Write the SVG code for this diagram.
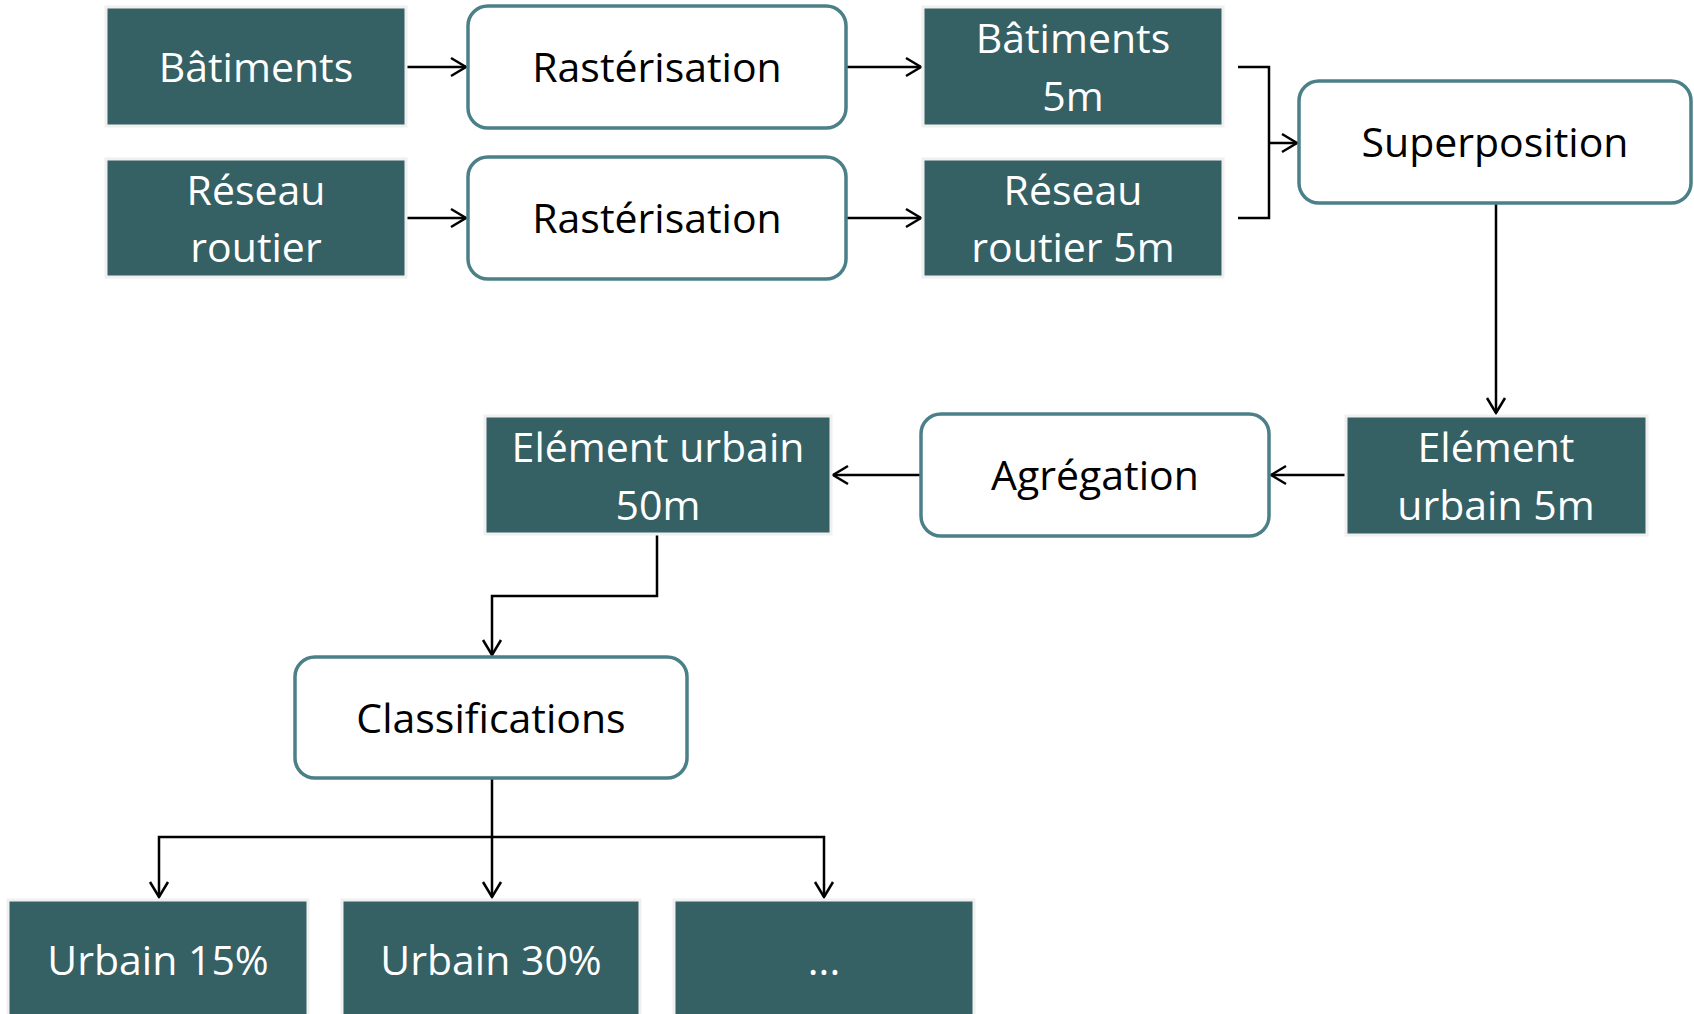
<svg xmlns="http://www.w3.org/2000/svg" width="1694" height="1014" viewBox="0 0 1694 1014">
<style>
.data{fill:#356064;stroke:#f0f0f0;stroke-width:3}
.proc{fill:#ffffff;stroke:#4b8088;stroke-width:3.5}
.tw{font-family:"Open Sans","Liberation Sans",sans-serif;font-size:41px;fill:#ffffff;text-anchor:middle}
.tb{font-family:"Open Sans","Liberation Sans",sans-serif;font-size:41px;fill:#000000;text-anchor:middle}
.c{fill:none;stroke:#000;stroke-width:2.5}
.ca{fill:none;stroke:#000;stroke-width:2.5;marker-end:url(#arr)}
</style>
<defs>
<marker id="arr" markerUnits="userSpaceOnUse" viewBox="-18 -12 20 24" markerWidth="20" markerHeight="24" refX="0" refY="0" orient="auto">
<path d="M-15,-9 L0,0 L-15,9" fill="none" stroke="#000" stroke-width="2.5"/>
</marker>
</defs>
<rect width="1694" height="1014" fill="#ffffff"/>
<g id="connectors">
<path class="ca" d="M406,67 H466"/>
<path class="ca" d="M406,218 H466"/>
<path class="ca" d="M846,67 H921"/>
<path class="ca" d="M846,218 H921"/>
<path class="c" d="M1238,67 H1269 V218 H1238"/>
<path class="ca" d="M1269,143 H1297"/>
<path class="ca" d="M1496,203 V413"/>
<path class="ca" d="M1346,475 H1271"/>
<path class="ca" d="M921,475 H833"/>
<path class="ca" d="M657,534 V596 H492 V655"/>
<path class="ca" d="M492,778 V897"/>
<path class="ca" d="M492,837 H159 V897"/>
<path class="ca" d="M492,837 H824 V897"/>
</g>
<g id="batiments"><rect class="data" x="106" y="7" width="300" height="119"/><text class="tw" x="256" y="82">Bâtiments</text></g>
<g id="reseau"><rect class="data" x="106" y="159" width="300" height="118"/><text class="tw" x="256" y="205">Réseau</text><text class="tw" x="256" y="262">routier</text></g>
<g id="raster1"><rect class="proc" x="468" y="6" width="378" height="122" rx="20"/><text class="tb" x="657" y="82">Rastérisation</text></g>
<g id="raster2"><rect class="proc" x="468" y="157" width="378" height="122" rx="20"/><text class="tb" x="657" y="233">Rastérisation</text></g>
<g id="batiments5m"><rect class="data" x="923" y="7" width="300" height="119"/><text class="tw" x="1073" y="53">Bâtiments</text><text class="tw" x="1073" y="111">5m</text></g>
<g id="reseau5m"><rect class="data" x="923" y="159" width="300" height="118"/><text class="tw" x="1073" y="205">Réseau</text><text class="tw" x="1073" y="262">routier 5m</text></g>
<g id="superposition"><rect class="proc" x="1299" y="81" width="392" height="122" rx="20"/><text class="tb" x="1495" y="157">Superposition</text></g>
<g id="urbain5m"><rect class="data" x="1346" y="416" width="301" height="119"/><text class="tw" x="1496" y="462">Elément</text><text class="tw" x="1496" y="520">urbain 5m</text></g>
<g id="agregation"><rect class="proc" x="921" y="414" width="348" height="122" rx="20"/><text class="tb" x="1095" y="490">Agrégation</text></g>
<g id="urbain50m"><rect class="data" x="485" y="416" width="346" height="118"/><text class="tw" x="658" y="462">Elément urbain</text><text class="tw" x="658" y="520">50m</text></g>
<g id="classifications"><rect class="proc" x="295" y="657" width="392" height="121" rx="20"/><text class="tb" x="491" y="733">Classifications</text></g>
<g id="urbain15"><rect class="data" x="8" y="900" width="300" height="130"/><text class="tw" x="158" y="975">Urbain 15%</text></g>
<g id="urbain30"><rect class="data" x="342" y="900" width="298" height="130"/><text class="tw" x="491" y="975">Urbain 30%</text></g>
<g id="etc"><rect class="data" x="674" y="900" width="300" height="130"/><text class="tw" x="824" y="975">...</text></g>
</svg>
